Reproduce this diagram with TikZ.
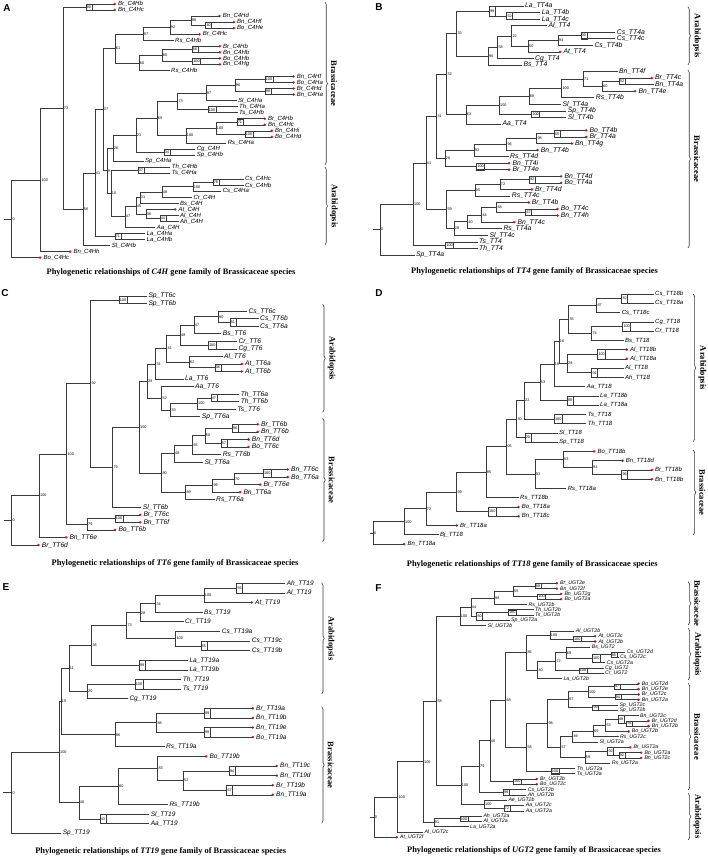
\documentclass[tikz,border=0pt]{standalone}
\usepackage{fontspec}
\setmainfont{Liberation Serif}
\setsansfont{Liberation Sans}
\usetikzlibrary{calc,decorations.pathreplacing}
\definecolor{treeline}{HTML}{3A3A3A}
\definecolor{hitred}{HTML}{E3161E}

\newcommand{\taxsize}{6}
\newcommand{\rowtop}{0}
\newcommand{\rowgap}{6}
\newcommand{\setrows}[3]{\renewcommand{\rowtop}{#1}\renewcommand{\rowgap}{#2}\renewcommand{\taxsize}{#3}}
% leaf: name, label x, row, label  (\lfr = with red mark)
\newcommand{\lf}[4]{%
  \coordinate (#1) at ({#2-1.5},{\rowtop+(#3-1)*\rowgap});
  \node[taxon] at ({#2},{\rowtop+(#3-1)*\rowgap}) {#4};}
\newcommand{\lfr}[4]{%
  \coordinate (#1) at ({#2-3.2},{\rowtop+(#3-1)*\rowgap});
  \fill[hitred] (#1) circle[radius=1.4pt];
  \node[taxon] at ({#2},{\rowtop+(#3-1)*\rowgap}) {#4};}
% clade: name, x, child, child, support  (\clb = boxed support)
\newcommand{\cl}[5]{%
  \path let \p1=(#3), \p2=(#4) in coordinate (#1) at (#2pt,{0.5*(\y1)+0.5*(\y2)});
  \draw[branch] (#3) -- (#1 |- #3) -- (#1 |- #4) -- (#4);
  \node[boot] at (#1) {#5};}
\newcommand{\clb}[5]{%
  \path let \p1=(#3), \p2=(#4), \n1={abs((\y1)-(\y2))} in
    coordinate (#1) at (#2pt,{0.5*(\y1)+0.5*(\y2)})
    node[bootbox, minimum height=\n1] at (#2pt,{0.5*(\y1)+0.5*(\y2)}) {#5};
  \draw[branch] (#3) -- (#1 |- #3) -- (#1 |- #4) -- (#4);}
% group brace: x, top, bottom, name
\newcommand{\clade}[4]{%
  \draw[brk] (#1,#2) -- (#1,#3);
  \node[grp] at ({#1+9},{(#2+#3)/2}) {#4};}

\begin{document}
\begin{tikzpicture}[
  x=1pt, y=-1pt,
  branch/.style={draw=treeline, line width=0.55pt},
  taxon/.style={anchor=west, inner sep=0pt, font=\sffamily\itshape\fontsize{\taxsize}{\taxsize}\selectfont},
  boot/.style={anchor=west, inner sep=0.7pt, font=\sffamily\fontsize{3.8}{3.8}\selectfont},
  bootbox/.style={anchor=west, draw=treeline, line width=0.45pt, inner xsep=0.8pt, inner ysep=0pt, outer sep=0pt, font=\sffamily\fontsize{3.8}{3.8}\selectfont},
  brk/.style={decorate, decoration={brace, amplitude=2.5pt}, draw=treeline, line width=0.6pt},
  grp/.style={rotate=-90, font=\bfseries\fontsize{8.5}{8.5}\selectfont},
  capt/.style={font=\bfseries\fontsize{8.4}{8.4}\selectfont},
  panel/.style={font=\sffamily\bfseries\fontsize{10}{10}\selectfont}
]
\fill[white] (0,0) rectangle (708,859);
\useasboundingbox (0,0) rectangle (708,859);

% ---------------- Panel A: C4H ----------------
\setrows{4}{6.04}{6}
\node[panel] (labA) at (7,8) {A};
\lfr{A1}{118}{1}{Br\_C4Hb}
\lfr{A2}{118}{2}{Bn\_C4Hc}
\lfr{A3}{222.7}{3}{Bn\_C4Hd}
\lfr{A4}{237}{4}{Bn\_C4Hf}
\lfr{A5}{237}{5}{Bo\_C4He}
\lfr{A6}{202.7}{6}{Br\_C4Hc}
\lf{A7}{175}{7}{Rs\_C4Hb}
\lfr{A8}{223}{8}{Br\_C4Hb}
\lfr{A9}{223}{9}{Bn\_C4Hb}
\lfr{A10}{223}{10}{Bo\_C4Hb}
\lfr{A11}{223}{11}{Bn\_C4Hg}
\lf{A12}{171}{12}{Rs\_C4Hb}
\lfr{A13}{296.7}{13}{Bn\_C4Hf}
\lfr{A14}{296.7}{14}{Bo\_C4Ha}
\lfr{A15}{296.7}{15}{Br\_C4Hd}
\lfr{A16}{296.7}{16}{Bn\_C4Ha}
\lf{A17}{238}{17}{Sl\_C4Ha}
\lf{A18}{239}{18}{Th\_C4Ha}
\lf{A19}{239}{19}{Ts\_C4Hb}
\lfr{A20}{268}{20}{Br\_C4Hb}
\lfr{A21}{268}{21}{Bn\_C4Hc}
\lfr{A22}{275}{22}{Bn\_C4Hi}
\lfr{A23}{275}{23}{Bo\_C4Hd}
\lf{A24}{227.7}{24}{Rs\_C4Ha}
\lf{A25}{196.7}{25}{Cg\_C4H}
\lf{A26}{196.7}{26}{Sp\_C4Hb}
\lf{A27}{145}{27}{Sp\_C4Ha}
\lf{A28}{171.7}{28}{Th\_C4Hb}
\lf{A29}{171.7}{29}{Ts\_C4Ha}
\lf{A30}{245}{30}{Cs\_C4Hc}
\lf{A31}{245}{31}{Cs\_C4Hb}
\lf{A32}{222.7}{32}{Cs\_C4Ha}
\lf{A33}{193.3}{33}{Cr\_C4H}
\lf{A34}{180}{34}{Bs\_C4H}
\lfr{A35}{178.3}{35}{At\_C4H}
\lf{A36}{180}{36}{Al\_C4H}
\lf{A37}{180}{37}{Ah\_C4H}
\lf{A38}{156.7}{38}{Aa\_C4H}
\lf{A39}{146.7}{39}{La\_C4Ha}
\lf{A40}{146.7}{40}{La\_C4Hb}
\lf{A41}{111.7}{41}{Sl\_C4Hb}
\lfr{A42}{73.3}{42}{Bn\_C4Hh}
\lfr{A43}{43.3}{43}{Bo\_C4Hc}
\clb{a80}{86}{A1}{A2}{80}
\clb{a40}{205.7}{A4}{A5}{40}
\cl{a98}{191}{A3}{a40}{98}
\cl{a92}{170}{a98}{A6}{92}
\cl{a97}{143}{a92}{A7}{97}
\clb{a56b}{192}{A8}{A9}{56}
\clb{a100a}{192.5}{A10}{A11}{100}
\cl{a80b}{162}{a56b}{a100a}{80}
\cl{a60}{139}{a80b}{A12}{60}
\cl{a61}{115}{a97}{a60}{61}
\clb{a100b}{265}{A13}{A14}{100}
\clb{a99}{265}{A15}{A16}{99}
\cl{a96}{235}{a100b}{a99}{96}
\cl{a97b}{206}{a96}{A17}{97}
\clb{a100c}{208}{A18}{A19}{100}
\cl{a73b}{177.7}{a97b}{a100c}{73}
\clb{a71}{237}{A20}{A21}{71}
\clb{a100d}{245}{A22}{A23}{100}
\cl{a100e}{216}{a71}{a100d}{100}
\cl{a100f}{186}{a100e}{A24}{100}
\cl{a69}{157}{a73b}{a100f}{69}
\clb{a34}{164}{A25}{A26}{34}
\cl{a21}{136}{a69}{a34}{21}
\cl{a26}{113}{a21}{A27}{26}
\clb{a37c}{138}{A28}{A29}{37}
\clb{a78}{213}{A30}{A31}{78}
\cl{a100g}{193}{a78}{A32}{100}
\cl{a48}{162}{a100g}{A33}{48}
\cl{a31}{140}{a48}{A34}{31}
\clb{a44}{160}{A36}{A37}{44}
\cl{a36}{146}{A35}{a44}{36}
\cl{a45}{136}{a31}{a36}{45}
\cl{a47}{125}{a45}{A38}{47}
\cl{a10}{111}{a37c}{a47}{10}
\cl{a9}{107}{a26}{a10}{9}
\cl{a37}{103}{a61}{a9}{37}
\clb{a71b}{115}{A39}{A40}{71}
\cl{a41}{95}{a37}{a71b}{41}
\cl{a56}{83}{a41}{A41}{56}
\cl{a73}{63}{a80}{a56}{73}
\cl{a100}{40.7}{a73}{A42}{100}
\cl{a0}{11.7}{a100}{A43}{0}
\draw[branch] (a0) -- ++(-7.7,0);
\clade{325}{2}{165}{Brassicaceae}
\clade{325}{167}{245}{Arabidopsis}
\node[capt] (capA) at (171,272) {Phylogenetic relationships of \textit{C4H} gene family of Brassicaceae species};

% ---------------- Panel B: TT4 ----------------
\setrows{6}{6.55}{6.8}
\node[panel] (labB) at (379,7) {B};
\lf{B1}{525}{1}{La\_TT4a}
\lf{B2}{541.7}{2}{La\_TT4b}
\lf{B3}{541.7}{3}{La\_TT4c}
\lf{B4}{548.3}{4}{Al\_TT4}
\lf{B5}{616.7}{5}{Cs\_TT4a}
\lf{B6}{616.7}{6}{Cs\_TT4c}
\lf{B7}{594.3}{7}{Cs\_TT4b}
\lfr{B8}{563.3}{8}{At\_TT4}
\lf{B9}{535}{9}{Cg\_TT4}
\lf{B10}{523.3}{10}{Bs\_TT4}
\lf{B11}{619}{11}{Bn\_TT4f}
\lfr{B12}{655}{12}{Br\_TT4c}
\lf{B13}{655}{13}{Bn\_TT4a}
\lfr{B14}{638.3}{14}{Bn\_TT4e}
\lf{B15}{595.7}{15}{Rs\_TT4b}
\lf{B16}{562.3}{16}{Sl\_TT4a}
\lf{B17}{567.7}{17}{Sp\_TT4b}
\lf{B18}{567.7}{18}{Sl\_TT4b}
\lf{B19}{502.3}{19}{Aa\_TT4}
\lfr{B20}{589.3}{20}{Bo\_TT4b}
\lfr{B21}{589.3}{21}{Br\_TT4a}
\lfr{B22}{575}{22}{Bn\_TT4g}
\lfr{B23}{540.7}{23}{Bn\_TT4b}
\lf{B24}{510}{24}{Rs\_TT4d}
\lfr{B25}{512.3}{25}{Bn\_TT4i}
\lfr{B26}{512.3}{26}{Br\_TT4e}
\lfr{B27}{564.3}{27}{Bn\_TT4d}
\lfr{B28}{564.3}{28}{Bo\_TT4a}
\lfr{B29}{535}{29}{Br\_TT4d}
\lf{B30}{511.7}{30}{Rs\_TT4c}
\lfr{B31}{531.7}{31}{Br\_TT4b}
\lfr{B32}{560.7}{32}{Bo\_TT4c}
\lfr{B33}{560.7}{33}{Bn\_TT4h}
\lfr{B34}{517.3}{34}{Bn\_TT4c}
\lf{B35}{503.3}{35}{Rs\_TT4a}
\lf{B36}{489.3}{36}{Sl\_TT4c}
\lf{B37}{479}{37}{Ts\_TT4}
\lf{B38}{479}{38}{Th\_TT4}
\lf{B39}{416}{39}{Sp\_TT4a}
\clb{b52}{506.7}{B2}{B3}{52}
\clb{b99}{489.3}{B1}{b52}{99}
\clb{b30}{581}{B5}{B6}{30}
\cl{b94}{558.3}{b30}{B7}{94}
\cl{b50}{528.3}{b94}{B8}{50}
\cl{b22}{511.7}{B4}{b50}{22}
\cl{b58}{497.7}{b22}{B9}{58}
\cl{b96}{488.3}{b58}{B10}{96}
\cl{b33}{456.7}{b99}{b96}{33}
\clb{b52b}{619.3}{B12}{B13}{52}
\cl{b60}{602.3}{b52b}{B14}{60}
\cl{b71}{583.3}{B11}{b60}{71}
\cl{b100}{561.7}{b71}{B15}{100}
\cl{b88}{529}{b100}{B16}{88}
\clb{b100s}{531.7}{B17}{B18}{100}
\cl{b100c}{499.3}{b88}{b100s}{100}
\cl{b63}{466}{b100c}{B19}{63}
\cl{b32}{446.7}{b33}{b63}{32}
\clb{b55}{554.3}{B20}{B21}{55}
\cl{b98}{536.7}{b55}{B22}{98}
\cl{b96c}{506.7}{b98}{B23}{96}
\cl{b92}{474.3}{b96c}{B24}{92}
\clb{b100d}{476.7}{B25}{B26}{100}
\cl{b26}{445}{b92}{b100d}{26}
\cl{b31}{436.7}{b32}{b26}{31}
\clb{b92b}{529.3}{B27}{B28}{92}
\cl{b72}{500}{b92b}{B29}{72}
\cl{b05}{475}{b72}{B30}{05}
\clb{b67}{525.7}{B32}{B33}{67}
\cl{b48}{496.7}{B31}{b67}{48}
\cl{b44}{481.7}{b48}{B34}{44}
\cl{b40}{467.7}{b44}{B35}{40}
\cl{b28}{454}{b40}{B36}{28}
\cl{b59}{446.7}{b05}{b28}{59}
\cl{b41}{426}{b31}{b59}{41}
\clb{b100t}{445.7}{B37}{B38}{100}
\cl{b100e}{413.3}{b41}{b100t}{100}
\cl{b0}{380}{b100e}{B39}{0}
\draw[branch] (b0) -- ++(-6.7,0);
\clade{688}{6.7}{65}{Arabidopsis}
\clade{688}{70}{248}{Brassicaceae}
\node[capt] (capB) at (534.5,271.7) {Phylogenetic relationships of \textit{TT4} gene family of Brassicaceae species};

% ---------------- Panel C: TT6 ----------------
\setrows{296}{7.545}{6.7}
\node[panel] (labC) at (5,293.3) {C};
\lf{C1}{148.3}{1}{Sp\_TT6c}
\lf{C2}{148.3}{2}{Sp\_TT6b}
\lf{C3}{248.3}{3}{Cs\_TT6c}
\lf{C4}{260}{4}{Cs\_TT6b}
\lf{C5}{260}{5}{Cs\_TT6a}
\lf{C6}{222.7}{6}{Bs\_TT6}
\lf{C7}{238.3}{7}{Cr\_TT6}
\lf{C8}{238.3}{8}{Cg\_TT6}
\lf{C9}{224}{9}{Al\_TT6}
\lfr{C10}{245}{10}{At\_TT6a}
\lfr{C11}{245}{11}{At\_TT6b}
\lf{C12}{185}{12}{La\_TT6}
\lf{C13}{195}{13}{Aa\_TT6}
\lf{C14}{240.7}{14}{Th\_TT6a}
\lf{C15}{240.7}{15}{Th\_TT6b}
\lf{C16}{237.3}{16}{Ts\_TT6}
\lf{C17}{201.7}{17}{Sp\_TT6a}
\lfr{C18}{261}{18}{Br\_TT6b}
\lfr{C19}{261}{19}{Bn\_TT6b}
\lfr{C20}{251.7}{20}{Bn\_TT6d}
\lfr{C21}{251.7}{21}{Bo\_TT6c}
\lf{C22}{222.7}{22}{Rs\_TT6b}
\lf{C23}{204.3}{23}{Sl\_TT6a}
\lfr{C24}{291}{24}{Bn\_TT6c}
\lfr{C25}{291}{25}{Bo\_TT6a}
\lfr{C26}{263.3}{26}{Br\_TT6e}
\lfr{C27}{243.3}{27}{Bn\_TT6a}
\lf{C28}{216}{28}{Rs\_TT6a}
\lf{C29}{142.7}{29}{Sl\_TT6b}
\lfr{C30}{143.3}{30}{Br\_TT6c}
\lfr{C31}{143.3}{31}{Bn\_TT6f}
\lfr{C32}{118.3}{32}{Bo\_TT6b}
\lfr{C33}{69.3}{33}{Bn\_TT6e}
\lfr{C34}{41.7}{34}{Br\_TT6d}
\clb{c100a}{119}{C1}{C2}{100}
\clb{c51}{230}{C4}{C5}{51}
\cl{c90}{218.3}{C3}{c51}{90}
\cl{c47}{194}{c90}{C6}{47}
\clb{c100b}{208.3}{C7}{C8}{100}
\cl{c48}{180.3}{c47}{c100b}{48}
\clb{c06}{215}{C10}{C11}{06}
\cl{c62}{189.3}{C9}{c06}{62}
\cl{c41}{166.7}{c48}{c62}{41}
\cl{c31}{155.7}{c41}{C12}{31}
\clb{c47b}{211}{C14}{C15}{47}
\cl{c100c}{197.3}{c47b}{C16}{100}
\cl{c33}{170.7}{c100c}{C17}{33}
\cl{c52}{161.7}{C13}{c33}{52}
\cl{c28}{147.3}{c31}{c52}{28}
\clb{c96}{232.3}{C18}{C19}{96}
\clb{c57}{221}{C20}{C21}{57}
\cl{c50}{205}{c96}{c57}{50}
\cl{c65}{192.7}{c50}{C22}{65}
\cl{c48b}{174.3}{c65}{C23}{48}
\clb{c100d}{263.3}{C24}{C25}{100}
\cl{c70}{234.3}{c100d}{C26}{70}
\cl{c99}{212.7}{c70}{C27}{99}
\cl{c89}{185.7}{c99}{C28}{89}
\cl{c80}{161.7}{c48b}{c89}{80}
\cl{c100e}{139.3}{c28}{c80}{100}
\cl{c79}{112.7}{c100e}{C29}{79}
\cl{c92}{90.7}{c100a}{c79}{92}
\clb{c100f}{115}{C30}{C31}{100}
\cl{c79b}{87.3}{c100f}{C32}{79}
\cl{c100g}{66.7}{c92}{c79b}{100}
\cl{c100h}{39.3}{c100g}{C33}{100}
\cl{c0}{11.7}{c100h}{C34}{0}
\draw[branch] (c0) -- ++(-7.7,0);
\clade{322.7}{304.3}{412.3}{Arabidopsis}
\clade{322.7}{418.3}{541.7}{Brassicaceae}
\node[capt] (capC) at (175,563.3) {Phylogenetic relationships of \textit{TT6} gene family of Brassicaceae species};

% ---------------- Panel D: TT18 ----------------
\setrows{294}{9.26}{6}
\node[panel] (labD) at (379,293.3) {D};
\lf{D1}{655}{1}{Cs\_TT18b}
\lf{D2}{655}{2}{Cs\_TT18a}
\lf{D3}{621.7}{3}{Cs\_TT18c}
\lf{D4}{655}{4}{Cg\_TT18}
\lf{D5}{655}{5}{Cr\_TT18}
\lf{D6}{625}{6}{Bs\_TT18}
\lfr{D7}{630}{7}{Al\_TT18b}
\lfr{D8}{630}{8}{Al\_TT18a}
\lf{D9}{625}{9}{Al\_TT18}
\lf{D10}{625}{10}{Ah\_TT18}
\lf{D11}{586.7}{11}{Aa\_TT18}
\lf{D12}{600}{12}{La\_TT18b}
\lf{D13}{600}{13}{La\_TT18a}
\lf{D14}{587.7}{14}{Ts\_TT18}
\lf{D15}{587.7}{15}{Th\_TT18}
\lf{D16}{559}{16}{Sl\_TT18}
\lf{D17}{559}{17}{Sp\_TT18}
\lfr{D18}{597.3}{18}{Bo\_TT18b}
\lfr{D19}{625.7}{19}{Bn\_TT18d}
\lfr{D20}{655}{20}{Br\_TT18b}
\lfr{D21}{655}{21}{Bn\_TT18b}
\lf{D22}{567.7}{22}{Rs\_TT18a}
\lf{D23}{520}{23}{Rs\_TT18b}
\lfr{D24}{521.7}{24}{Bo\_TT18a}
\lfr{D25}{521.7}{25}{Bn\_TT18c}
\lfr{D26}{460}{26}{Br\_TT18a}
\lf{D27}{440}{27}{Bj\_TT18}
\lfr{D28}{407.3}{28}{Bn\_TT18a}
\clb{d82}{621.7}{D1}{D2}{82}
\cl{d87}{596.7}{d82}{D3}{87}
\clb{d100a}{622.7}{D4}{D5}{100}
\cl{d74}{591.7}{d100a}{D6}{74}
\cl{d35}{568.7}{d87}{d74}{35}
\clb{d100b}{597.7}{D7}{D8}{100}
\clb{d91}{591.7}{D9}{D10}{91}
\cl{d28}{567.3}{d100b}{d91}{28}
\cl{d16}{559}{d35}{d28}{16}
\cl{d18}{554}{d16}{D11}{18}
\clb{d88}{567.3}{D12}{D13}{88}
\cl{d53}{540}{d18}{d88}{53}
\clb{d100c}{554.3}{D14}{D15}{100}
\cl{d22}{524.3}{d53}{d100c}{22}
\clb{d20}{525}{D16}{D17}{20}
\cl{d30}{516.7}{d22}{d20}{30}
\clb{d96}{621.7}{D20}{D21}{96}
\cl{d94}{592.3}{D19}{d96}{94}
\cl{d53b}{563.3}{D18}{d94}{53}
\cl{d93}{535}{d53b}{D22}{93}
\cl{d05}{506.7}{d30}{d93}{05}
\cl{d95}{486}{d05}{D23}{95}
\clb{d100d}{488.3}{D24}{D25}{100}
\cl{d99}{456.7}{d95}{d100d}{99}
\cl{d72}{426}{d99}{D26}{72}
\cl{d100e}{404.3}{d72}{D27}{100}
\cl{d0}{373.3}{d100e}{D28}{0}
\draw[branch] (d0) -- ++(-3.3,0);
\clade{693.3}{294}{441.7}{Arabidopsis}
\clade{693.3}{450}{535}{Brassicaceae}
\node[capt] (capD) at (532.3,564) {Phylogenetic relationships of \textit{TT18} gene family of Brassicaceae species};

% ---------------- Panel E: TT19 ----------------
\setrows{583.3}{9.615}{6.5}
\node[panel] (labE) at (6,586.7) {E};
\lf{E1}{286.7}{1}{Ah\_TT19}
\lf{E2}{286.7}{2}{Al\_TT19}
\lfr{E3}{255}{3}{At\_TT19}
\lf{E4}{204}{4}{Bs\_TT19}
\lf{E5}{185}{5}{Cr\_TT19}
\lf{E6}{221.7}{6}{Cs\_TT19a}
\lf{E7}{251.7}{7}{Cs\_TT19c}
\lf{E8}{251.7}{8}{Cs\_TT19b}
\lf{E9}{189.3}{9}{La\_TT19a}
\lf{E10}{189.3}{10}{La\_TT19b}
\lf{E11}{182.7}{11}{Th\_TT19}
\lf{E12}{182.7}{12}{Ts\_TT19}
\lf{E13}{129.3}{13}{Cg\_TT19}
\lfr{E14}{256}{14}{Br\_TT19a}
\lfr{E15}{256}{15}{Bn\_TT19b}
\lfr{E16}{256}{16}{Bn\_TT19e}
\lfr{E17}{256}{17}{Bo\_TT19a}
\lf{E18}{166}{18}{Rs\_TT19a}
\lfr{E19}{209.3}{19}{Bo\_TT19b}
\lfr{E20}{280}{20}{Bn\_TT19c}
\lfr{E21}{280}{21}{Bn\_TT19d}
\lfr{E22}{276}{22}{Br\_TT19b}
\lfr{E23}{276}{23}{Bn\_TT19a}
\lf{E24}{169.3}{24}{Rs\_TT19b}
\lf{E25}{150.7}{25}{Sl\_TT19}
\lf{E26}{150.7}{26}{Aa\_TT19}
\lf{E27}{62.7}{27}{Sp\_TT19}
\clb{e55}{236.7}{E1}{E2}{55}
\cl{e100a}{204}{e55}{E3}{100}
\cl{e34}{155.7}{e100a}{E4}{34}
\cl{e28}{140}{e34}{E5}{28}
\clb{e55b}{201}{E7}{E8}{55}
\cl{e100b}{175.7}{E6}{e55b}{100}
\cl{e73}{126.7}{e28}{e100b}{73}
\clb{e99}{139.3}{E9}{E10}{99}
\cl{e36}{91.7}{e73}{e99}{36}
\clb{e100c}{135}{E11}{E12}{100}
\cl{e20}{87.3}{e100c}{E13}{20}
\cl{e11}{69}{e36}{e20}{11}
\clb{e99b}{204.3}{E14}{E15}{99}
\clb{e99c}{204.3}{E16}{E17}{99}
\cl{e88}{156.7}{e99b}{e99c}{88}
\cl{e96}{115}{e88}{E18}{96}
\cl{e15}{61}{e11}{e96}{15}
\clb{e94}{229.3}{E20}{E21}{94}
\clb{e67}{226.7}{E22}{E23}{67}
\cl{e52}{183.3}{e94}{e67}{52}
\cl{e83}{157.7}{E19}{e52}{83}
\cl{e80}{118.3}{e83}{E24}{80}
\clb{e43}{100}{E25}{E26}{43}
\cl{e40}{79}{e80}{e43}{40}
\cl{e100}{59.3}{e15}{e40}{100}
\cl{e0}{11.7}{e100}{E27}{0}
\draw[branch] (e0) -- ++(-8.7,0);
\clade{321.7}{582.7}{694}{Arabidopsis}
\clade{321.7}{706.7}{823.3}{Brassicaceae}
\node[capt] (capE) at (160.8,851.7) {Phylogenetic relationships of \textit{TT19} gene family of Brassicaceae species};

% ---------------- Panel F: UGT2 ----------------
\setrows{583.3}{5.29}{5.2}
\node[panel] (labF) at (378.3,588.3) {F};
\lfr{F1}{560}{1}{Br\_UGT2e}
\lfr{F2}{560}{2}{Bn\_UGT2f}
\lfr{F3}{564.3}{3}{Bn\_UGT2g}
\lfr{F4}{564.3}{4}{Bo\_UGT2a}
\lf{F5}{528.3}{5}{Rs\_UGT2b}
\lf{F6}{535}{6}{Th\_UGT2b}
\lf{F7}{535}{7}{Ts\_UGT2b}
\lf{F8}{511}{8}{Sp\_UGT2a}
\lf{F9}{487.7}{9}{Sl\_UGT2b}
\lf{F10}{575.7}{10}{Al\_UGT2b}
\lfr{F11}{598.3}{11}{At\_UGT2c}
\lfr{F12}{598.3}{12}{At\_UGT2b}
\lf{F13}{591.7}{13}{Bs\_UGT2}
\lf{F14}{626.7}{14}{Cs\_UGT2d}
\lf{F15}{620}{15}{Cs\_UGT2c}
\lf{F16}{606.7}{16}{Cs\_UGT2a}
\lf{F17}{605}{17}{Cg\_UGT2}
\lf{F18}{605}{18}{Cr\_UGT2}
\lf{F19}{563.3}{19}{La\_UGT2b}
\lfr{F20}{641.7}{20}{Bo\_UGT2d}
\lfr{F21}{641.7}{21}{Bn\_UGT2e}
\lfr{F22}{641.7}{22}{Br\_UGT2c}
\lfr{F23}{641.7}{23}{Bn\_UGT2a}
\lf{F24}{619.3}{24}{Sp\_UGT2c}
\lf{F25}{619.3}{25}{Sp\_UGT2b}
\lf{F26}{640}{26}{Bn\_UGT2c}
\lfr{F27}{651.7}{27}{Br\_UGT2d}
\lfr{F28}{651.7}{28}{Bn\_UGT2b}
\lfr{F29}{631.7}{29}{Bo\_UGT2b}
\lf{F30}{620}{30}{Rs\_UGT2c}
\lf{F31}{599.3}{31}{Sl\_UGT2a}
\lfr{F32}{633.3}{32}{Br\_UGT2a}
\lfr{F33}{644.3}{33}{Bo\_UGT2a}
\lfr{F34}{644.3}{34}{Bn\_UGT2c}
\lf{F35}{611.7}{35}{Rs\_UGT2a}
\lf{F36}{576.7}{36}{Th\_UGT2a}
\lf{F37}{576.7}{37}{Ts\_UGT2a}
\lfr{F38}{540}{38}{Br\_UGT2b}
\lfr{F39}{540}{39}{Bo\_UGT2c}
\lf{F40}{527.7}{40}{Cs\_UGT2b}
\lf{F41}{527.7}{41}{Ah\_UGT2b}
\lf{F42}{508.3}{42}{Ae\_UGT2b}
\lf{F43}{525.7}{43}{Aa\_UGT2c}
\lf{F44}{525.7}{44}{Aa\_UGT2a}
\lf{F45}{483.3}{45}{Ah\_UGT2a}
\lf{F46}{483.3}{46}{Al\_UGT2a}
\lf{F47}{470}{47}{La\_UGT2a}
\lf{F48}{424.3}{48}{Al\_UGT2c}
\lfr{F49}{400}{49}{At\_UGT2f}
\clb{f89}{535}{F1}{F2}{89}
\clb{f100a}{537.7}{F3}{F4}{100}
\cl{f55}{513.3}{f89}{f100a}{55}
\cl{f98}{494.3}{f55}{F5}{98}
\clb{f100b}{508.3}{F6}{F7}{100}
\clb{f50}{476.7}{f100b}{F8}{50}
\cl{f44}{471}{f98}{f50}{44}
\cl{f100c}{460}{f44}{F9}{100}
\clb{f100d}{573.3}{F11}{F12}{100}
\cl{f100e}{550}{F10}{f100d}{100}
\clb{f95}{611}{F14}{F15}{95}
\clb{f100f}{592.3}{f95}{F16}{100}
\cl{f69}{566}{F13}{f100f}{69}
\clb{f100g}{579}{F17}{F18}{100}
\cl{f72}{555.7}{f69}{f100g}{72}
\cl{f40}{537.7}{f72}{F19}{40}
\cl{f86}{526.7}{f100e}{f40}{86}
\clb{f97}{614.3}{F20}{F21}{97}
\clb{f94}{615}{F22}{F23}{94}
\cl{f100h}{588.3}{f97}{f94}{100}
\clb{f99}{592.7}{F24}{F25}{99}
\cl{f97b}{568.3}{f100h}{f99}{97}
\clb{f91}{626.7}{F27}{F28}{91}
\clb{f48}{618.3}{F26}{f91}{48}
\cl{f53}{605.7}{f48}{F29}{53}
\cl{f69b}{593.3}{f53}{F30}{69}
\cl{f49}{572.7}{f69b}{F31}{49}
\clb{f92b}{619}{F33}{F34}{92}
\clb{f92}{607.7}{F32}{f92b}{92}
\cl{f59}{585}{f92}{F35}{59}
\cl{f57}{560.7}{f49}{f59}{57}
\cl{f98b}{547.7}{f97b}{f57}{98}
\clb{f100i}{551}{F36}{F37}{100}
\cl{f58}{526.7}{f98b}{f100i}{58}
\cl{f68}{505.7}{f86}{f58}{68}
\clb{f100j}{513.3}{F38}{F39}{100}
\cl{f40b}{490}{f68}{f100j}{40}
\clb{f99b}{503.3}{F40}{F41}{99}
\cl{f79}{479.3}{f40b}{f99b}{79}
\clb{f72b}{504}{F43}{F44}{72}
\cl{f100k}{484.3}{F42}{f72b}{100}
\cl{f100l}{461}{f79}{f100k}{100}
\cl{f58r}{436.7}{f100c}{f100l}{58}
\clb{f100n}{460}{F45}{F46}{100}
\cl{f91r}{434}{f100n}{F47}{91}
\cl{f100m}{423.3}{f58r}{f91r}{100}
\cl{f100o}{397.7}{f100m}{F48}{100}
\cl{f0}{374}{f100o}{F49}{0}
\draw[branch] (f0) -- ++(-4,0);
\clade{688.3}{581.7}{625}{Brassicaceae}
\clade{688.3}{628.3}{680}{Arabidopsis}
\clade{688.3}{683.3}{790}{Brassicaceae}
\clade{688.3}{793.3}{840}{Arabidopsis}
\node[capt] (capF) at (534,850.7) {Phylogenetic relationships of \textit{UGT2} gene family of Brassicaceae species};

\end{tikzpicture}
\end{document}
